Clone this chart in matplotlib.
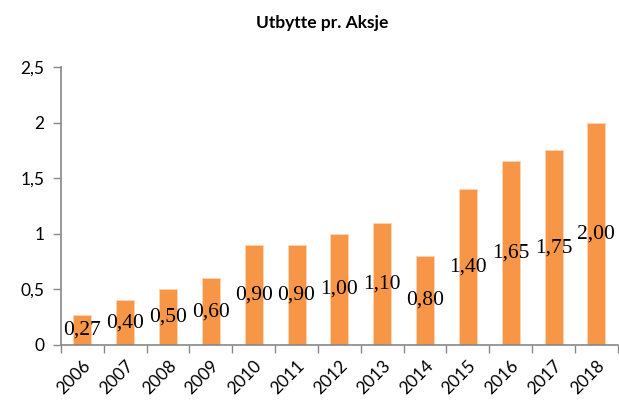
import numpy as np
import matplotlib.pyplot as plt
from matplotlib.ticker import FixedLocator

# Utbytte pr. aksje per år
years = ['2006', '2007', '2008', '2009', '2010', '2011', '2012',
         '2013', '2014', '2015', '2016', '2017', '2018']
dividend = [0.27, 0.40, 0.50, 0.60, 0.90, 0.90, 1.00,
            1.10, 0.80, 1.40, 1.65, 1.75, 2.00]
y_ticks = [0, 0.5, 1, 1.5, 2, 2.5]
y_tick_labels = ['0', '0,5', '1', '1,5', '2', '2,5']

fig = plt.figure(figsize=(6.19, 4.03), dpi=100)
ax = fig.add_axes([0.0985, 0.144, 0.8995, 0.690])

x = np.arange(len(years))
ax.bar(x, dividend, width=0.42, color='#F79646', edgecolor='#FBD5B5', linewidth=0.6)

# dataetiketter midt i søylen
for xi, v in zip(x, dividend):
    ax.text(xi, v / 2, f'{v:.2f}'.replace('.', ','), ha='center', va='center',
            fontsize=15.5, family='Liberation Serif', color='black')

ax.set_xlim(-0.5, len(years) - 0.5)
ax.set_ylim(0, 2.5)

ax.set_yticks(y_ticks)
ax.set_yticklabels(y_tick_labels, fontsize=12.5, family='Lato')
ax.set_xticks(x)
ax.set_xticklabels(years, fontsize=12.5, family='Lato', rotation=45,
                   ha='right', rotation_mode='anchor')
ax.xaxis.set_minor_locator(FixedLocator(np.arange(-0.5, len(years), 1.0)))
ax.tick_params(axis='x', which='major', length=0, pad=9)
ax.tick_params(axis='x', which='minor', length=6, color='#888888', width=1)
ax.tick_params(axis='y', length=6, color='#888888', width=1, pad=6)

for side in ['top', 'right']:
    ax.spines[side].set_visible(False)
for side in ['left', 'bottom']:
    ax.spines[side].set_color('#888888')
    ax.spines[side].set_linewidth(1.2)

fig.text(0.520, 0.943, 'Utbytte pr. Aksje', ha='center', va='center',
         fontsize=12.5, fontweight='bold', family='Lato')

fig.savefig('out.png', dpi=100)
